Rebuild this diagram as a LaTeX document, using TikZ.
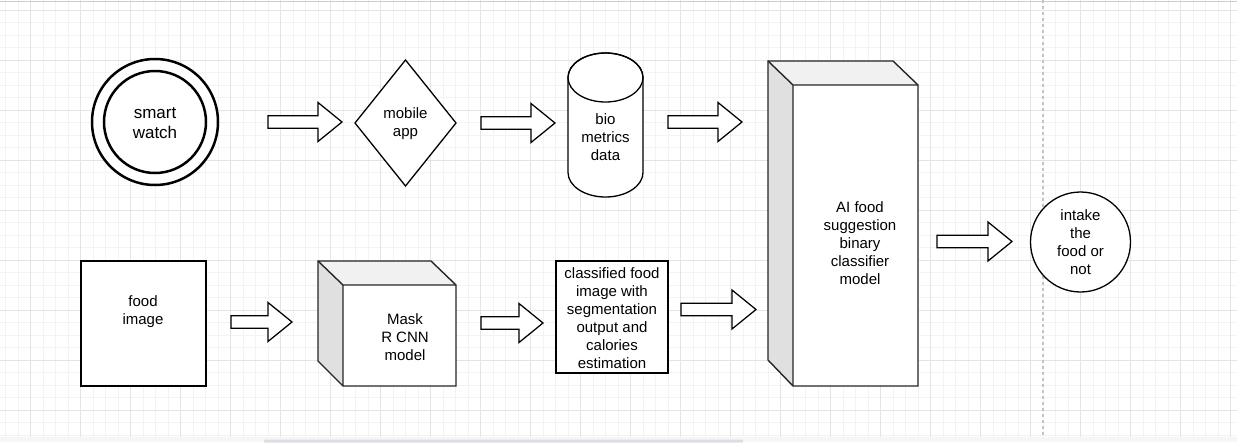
\documentclass[tikz,border=0pt]{standalone}
\usepackage{fontspec}
\setmainfont{Liberation Sans}
\usetikzlibrary{calc}
\definecolor{minorc}{HTML}{F3F3F3}
\definecolor{majorc}{HTML}{E4E4E4}
\definecolor{topface}{HTML}{F1F1F1}
\definecolor{sideface}{HTML}{E0E0E0}
\definecolor{barc}{HTML}{F5F6F8}
\definecolor{scrollc}{HTML}{DCDEE2}
\definecolor{dashc}{HTML}{C4C4C4}
\newcommand\blockarrow[2]{%
  \draw[barrow] ($(#1)+(0,6.25)$) -- ($(#2)+(-24,6.25)$) -- ($(#2)+(-24,19.5)$) -- (#2)
    -- ($(#2)+(-24,-19.5)$) -- ($(#2)+(-24,-6.25)$) -- ($(#1)+(0,-6.25)$) -- cycle;}
\begin{document}
\begin{tikzpicture}[x=1pt,y=-1pt,
  minorgrid/.style={draw=minorc,line width=1pt},
  majorgrid/.style={draw=majorc,line width=1pt},
  shapeline/.style={draw=black,line width=1.3pt,fill=white,line join=miter},
  cubeline/.style={draw=black!85,line width=1.4pt,line join=miter},
  barrow/.style={draw=black,line width=1.25pt,fill=white,line join=miter},
  lbl/.style={inner sep=0pt,align=center,font=\fontsize{15}{18}\selectfont},
  biglbl/.style={inner sep=0pt,align=center,font=\fontsize{17}{20}\selectfont}]
\useasboundingbox (0,0) rectangle (1237,442);
\fill[white] (0,0) rectangle (1237,442);
% grid
\foreach \i in {0,...,98} {\draw[minorgrid] ({5.5+12.5*\i},0) -- ({5.5+12.5*\i},437);}
\foreach \j in {0,...,34} {\draw[minorgrid] (0,{10+12.5*\j}) -- (1237,{10+12.5*\j});}
\foreach \i in {0,...,24} {\draw[majorgrid] ({30.5+50*\i},0) -- ({30.5+50*\i},437);}
\foreach \j in {0,...,8} {\draw[majorgrid] (0,{10+50*\j}) -- (1237,{10+50*\j});}
\draw[draw=majorc!90!black,line width=1pt] (0,1.5) -- (1237,1.5);
% page edge line
\draw[dashc,line width=1.3pt,dash pattern=on 3pt off 3pt] (1043,0) -- (1043,437);
% bottom bar
\fill[barc] (0,437) rectangle (1237,442);
\fill[scrollc,rounded corners=1pt] (264,439.5) rectangle (743,442.5);

% smart watch
\draw[line width=2.5pt,fill=white] (155,122) circle[radius=63];
\draw[line width=2.5pt] (155,122) circle[radius=51];
\node[biglbl] (sw) at (155,123) {smart\\watch};

% mobile app diamond
\draw[shapeline] (355,123) -- (405.5,60) -- (456,123) -- (405.5,186) -- cycle;
\node[lbl] (app) at (405.5,124) {mobile\\app};

% cylinder
\draw[shapeline] (568,77.5) -- (568,172.5) arc[start angle=180,end angle=0,x radius=37.5,y radius=24.5]
  -- (643,77.5) arc[start angle=0,end angle=-180,x radius=37.5,y radius=24.5] -- cycle;
\draw[shapeline,fill=none] (605.5,77.5) ellipse[x radius=37.5,y radius=24.5];
\node[lbl] (bio) at (605.5,137) {bio\\metrics\\data};

% AI cube
\fill[white] (793,85) rectangle (918,386);
\fill[topface] (768,61) -- (893,61) -- (918,85) -- (793,85) -- cycle;
\fill[sideface] (768,61) -- (793,85) -- (793,386) -- (768,360) -- cycle;
\draw[cubeline] (768,61) -- (893,61) -- (918,85) -- (918,386) -- (793,386) -- (768,360) -- cycle;
\draw[cubeline] (768,61) -- (793,85) -- (918,85) (793,85) -- (793,386);
\node[lbl] (ai) at (860,243) {AI food\\suggestion\\binary\\classifier\\model};

% intake circle
\draw[shapeline] (1080.5,242) circle[radius=50];
\node[lbl] (intake) at (1080.5,242) {intake\\the\\food or\\not};

% food image
\draw[shapeline,line width=1.5pt] (81,261) rectangle (206,386);
\node[lbl] (food) at (143,312) {food\\image};

% Mask R CNN cube
\fill[white] (343,285) rectangle (456,386);
\fill[topface] (318,261) -- (431,261) -- (456,285) -- (343,285) -- cycle;
\fill[sideface] (318,261) -- (343,285) -- (343,386) -- (318,361) -- cycle;
\draw[cubeline] (318,261) -- (431,261) -- (456,285) -- (456,386) -- (343,386) -- (318,361) -- cycle;
\draw[cubeline] (318,261) -- (343,285) -- (456,285) (343,285) -- (343,386);
\node[lbl] (mask) at (405,337) {Mask\\R CNN\\model};

% classified box
\draw[shapeline] (556,261) rectangle (668,373);
\node[lbl] (cls) at (612,318) {classified food\\image with\\segmentation\\output and\\calories\\estimation};

% block arrows
\coordinate (a1s) at (268,122); \coordinate (a1e) at (342,122);
\coordinate (a2s) at (481,123); \coordinate (a2e) at (555,123);
\coordinate (a3s) at (668,122); \coordinate (a3e) at (742,122);
\coordinate (a4s) at (681,309.5); \coordinate (a4e) at (756,309.5);
\coordinate (a5s) at (937,241.5); \coordinate (a5e) at (1012,241.5);
\coordinate (a6s) at (231,322); \coordinate (a6e) at (292,322);
\coordinate (a7s) at (481,323); \coordinate (a7e) at (543,323);
\blockarrow{a1s}{a1e}
\blockarrow{a2s}{a2e}
\blockarrow{a3s}{a3e}
\blockarrow{a4s}{a4e}
\blockarrow{a5s}{a5e}
\blockarrow{a6s}{a6e}
\blockarrow{a7s}{a7e}
\end{tikzpicture}
\end{document}
